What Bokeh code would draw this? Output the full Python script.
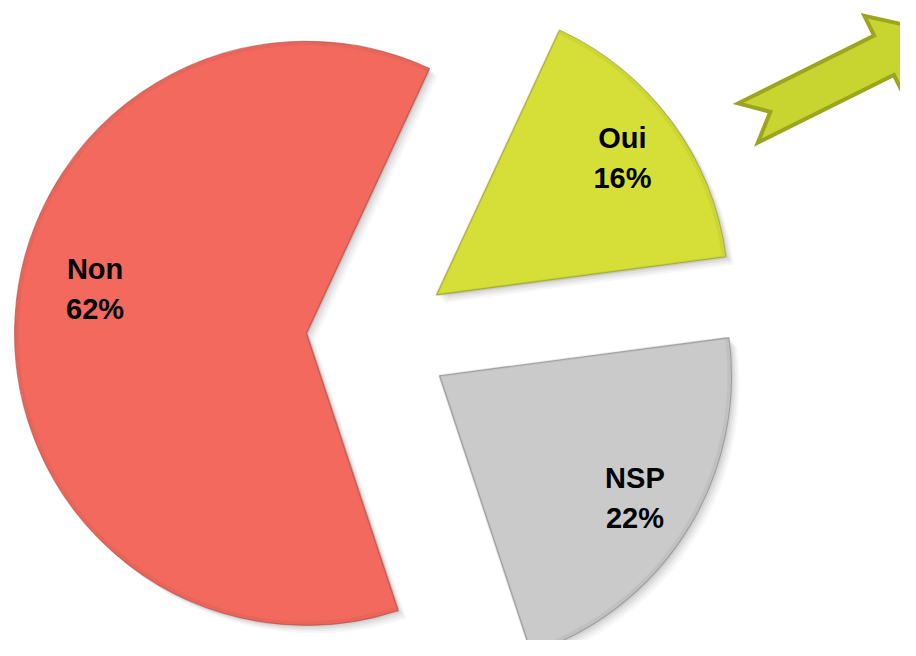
import numpy as np
from bokeh.plotting import figure
from bokeh.models import Range1d, ColumnDataSource
from bokeh.core.properties import value
from bokeh.embed import file_html
from bokeh.resources import INLINE

# ---- data ----
categories = ["Oui", "Non", "NSP"]
percents = [16, 62, 22]
pct_labels = ["16%", "62%", "22%"]
colors = ["#D5DF37", "#F3695E", "#CACACA"]
edge_colors = ["#8E9420", "#A8463F", "#7E7E7E"]

# ---- layout / style constants ----
W, H = 900, 640
CX, CY = 378.0, 319.0      # pie centre (reference pixel coords, y measured upward from 656)
R = 292.0                  # radius
EXPLODE = 72.0             # explosion distance
START_DEG = 7.5            # angle where first slice starts (anticlockwise)
label_frac = [0.79, 0.74, 0.79]
label_shift_deg = [0.0, -8.5, 0.0]

p = figure(width=W, height=H, output_backend="svg", toolbar_location=None,
           x_range=Range1d(0, W), y_range=Range1d(656 - H, 656),
           x_axis_location=None, y_axis_location=None, min_border=0)
p.grid.visible = False
p.outline_line_color = None
p.background_fill_color = "white"
p.border_fill_color = "white"

vals = np.array(percents, dtype=float)
ang = np.deg2rad(START_DEG) + np.concatenate([[0], np.cumsum(vals / vals.sum() * 2 * np.pi)])
starts, ends = ang[:-1], ang[1:]
mids = (starts + ends) / 2
xs = CX + EXPLODE * np.cos(mids)
ys = CY + EXPLODE * np.sin(mids)

src = ColumnDataSource(dict(x=xs, y=ys, start=starts, end=ends, color=colors,
                            edge=edge_colors, cat=categories, pct=pct_labels))

# soft drop shadow
for dx, dy, a in [(8, -8, 0.03), (6, -6, 0.04), (4, -4, 0.05), (2, -2, 0.06)]:
    p.wedge(x=xs + dx, y=ys + dy, radius=R, start_angle=starts, end_angle=ends,
            fill_color="black", fill_alpha=a, line_color=None)

p.wedge(x="x", y="y", radius=R, start_angle="start", end_angle="end",
        fill_color="color", line_color="edge", line_width=1.2, line_alpha=0.6, source=src)
# bevel shading just inside the edge
p.wedge(x="x", y="y", radius=R - 2.5, start_angle="start", end_angle="end",
        fill_color=None, line_color="edge", line_width=3, line_alpha=0.12, source=src)

# labels
la = mids + np.deg2rad(label_shift_deg)
lx = xs + np.array(label_frac) * R * np.cos(la)
ly = ys + np.array(label_frac) * R * np.sin(la)
lsrc = ColumnDataSource(dict(x=lx, y=ly, cat=categories, pct=pct_labels))
for col, off in [("cat", -20), ("pct", 20)]:
    p.text(x="x", y="y", text=col, source=lsrc, y_offset=off,
           text_font=value("Liberation Sans"), text_font_style="bold",
           text_font_size="29px", text_color="black",
           text_align="center", text_baseline="middle")

# decorative green arrow (built in its own local frame)
tail = np.array([747.5, 656 - 122.5])
a_ang = np.deg2rad(26.5)
u_pts = np.array([0, 25, 0, 152, 152, 206, 152, 152])
v_pts = np.array([22, 0, -22, -22, -44, 0, 44, 22])
ax = tail[0] + u_pts * np.cos(a_ang) - v_pts * np.sin(a_ang)
ay = tail[1] + u_pts * np.sin(a_ang) + v_pts * np.cos(a_ang)
p.patch(ax, ay, fill_color="#C8D430", line_color="#9BA61E", line_width=4,
        line_join="miter")

open("out.html", "w").write(file_html(p, INLINE))
